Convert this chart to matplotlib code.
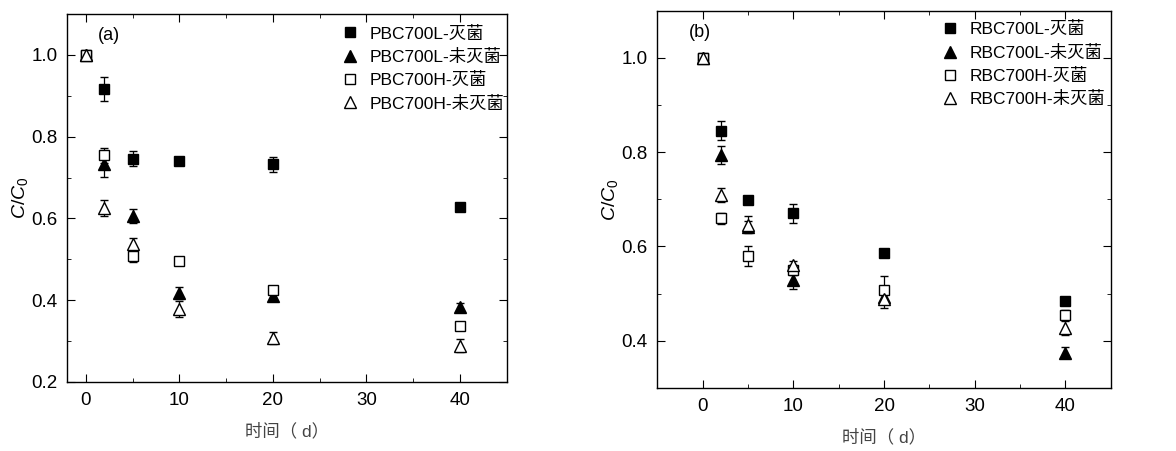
import numpy as np
import matplotlib
matplotlib.use('Agg')
import matplotlib.pyplot as plt
from matplotlib.ticker import MultipleLocator

plt.rcParams['font.family'] = ['Liberation Sans', 'Noto Sans CJK SC']
plt.rcParams['mathtext.fontset'] = 'custom'
plt.rcParams['mathtext.rm'] = 'Liberation Sans'
plt.rcParams['mathtext.it'] = 'Liberation Sans:italic'

days = [0, 2, 5, 10, 20, 40]

# panel (a)
labels_a = ['PBC700L-灭菌', 'PBC700L-未灭菌', 'PBC700H-灭菌', 'PBC700H-未灭菌']
a_L_st = [1.0, 0.916, 0.746, 0.741, 0.732, 0.629]
a_L_st_err = [0.0, 0.03, 0.018, 0.006, 0.018, 0.006]
a_L_ns = [1.0, 0.732, 0.606, 0.418, 0.41, 0.384]
a_L_ns_err = [0.0, 0.03, 0.018, 0.015, 0.012, 0.01]
a_H_st = [1.0, 0.754, 0.508, 0.496, 0.425, 0.337]
a_H_st_err = [0.0, 0.018, 0.015, 0.006, 0.008, 0.008]
a_H_ns = [1.0, 0.625, 0.537, 0.379, 0.308, 0.289]
a_H_ns_err = [0.0, 0.02, 0.015, 0.02, 0.015, 0.015]

# panel (b)
labels_b = ['RBC700L-灭菌', 'RBC700L-未灭菌', 'RBC700H-灭菌', 'RBC700H-未灭菌']
b_L_st = [1.0, 0.846, 0.699, 0.670, 0.587, 0.485]
b_L_st_err = [0.0, 0.02, 0.006, 0.02, 0.006, 0.006]
b_L_ns = [1.0, 0.794, 0.642, 0.529, 0.492, 0.375]
b_L_ns_err = [0.0, 0.02, 0.012, 0.02, 0.012, 0.012]
b_H_st = [1.0, 0.660, 0.580, 0.550, 0.508, 0.455]
b_H_st_err = [0.0, 0.012, 0.022, 0.01, 0.03, 0.01]
b_H_ns = [1.0, 0.709, 0.646, 0.560, 0.489, 0.427]
b_H_ns_err = [0.0, 0.015, 0.018, 0.01, 0.02, 0.015]

styles = [
    dict(marker='s', mfc='black', mec='black', ms=7),
    dict(marker='^', mfc='black', mec='black', ms=8.5),
    dict(marker='s', mfc='white', mec='black', ms=7),
    dict(marker='^', mfc='white', mec='black', ms=8.5),
]


def panel(ax, series, errs, labels, tag, xlim, ylim, leg_anchor):
    for y, e, lab, st in zip(series, errs, labels, styles):
        ax.errorbar(days, y, yerr=e, ls='none', color='black', elinewidth=0.9,
                    capsize=3, capthick=0.9, mew=1.0, label=lab, **st)
    ax.set_xlim(*xlim)
    ax.set_ylim(*ylim)
    ax.xaxis.set_major_locator(MultipleLocator(10))
    ax.xaxis.set_minor_locator(MultipleLocator(5))
    ax.yaxis.set_major_locator(MultipleLocator(0.2))
    ax.yaxis.set_minor_locator(MultipleLocator(0.1))
    ax.tick_params(which='both', direction='in', top=True, right=True, labelsize=13.5, pad=7)
    ax.tick_params(which='major', length=6)
    ax.tick_params(which='minor', length=3)
    for s in ax.spines.values():
        s.set_linewidth(1.0)
    ax.set_ylabel(r'$C/C_\mathrm{0}$', fontsize=14, labelpad=1)
    ax.set_xlabel('时间（ d）', fontsize=12.5, color='#444444', labelpad=10)
    ax.text(0.07, 0.965, tag, transform=ax.transAxes, fontsize=13, va='top')
    handles, labs = ax.get_legend_handles_labels()
    hs = [h[0] for h in handles]
    ax.legend(hs, labs, loc='upper right', bbox_to_anchor=leg_anchor, frameon=False,
              fontsize=12.5, handletextpad=0.4, labelspacing=0.42, borderaxespad=0.2,
              handlelength=1.5)


fig = plt.figure(figsize=(11.76, 4.51), dpi=100)
ax1 = fig.add_axes([0.057, 0.153, 0.374, 0.816])
ax2 = fig.add_axes([0.559, 0.140, 0.3855, 0.836])

panel(ax1, [a_L_st, a_L_ns, a_H_st, a_H_ns],
      [a_L_st_err, a_L_ns_err, a_H_st_err, a_H_ns_err],
      labels_a, '(a)', (-2, 45), (0.2, 1.1), (1.018, 0.997))
panel(ax2, [b_L_st, b_L_ns, b_H_st, b_H_ns],
      [b_L_st_err, b_L_ns_err, b_H_st_err, b_H_ns_err],
      labels_b, '(b)', (-5, 45), (0.3, 1.1), (1.012, 1.0))

fig.savefig('out.png', dpi=100)
